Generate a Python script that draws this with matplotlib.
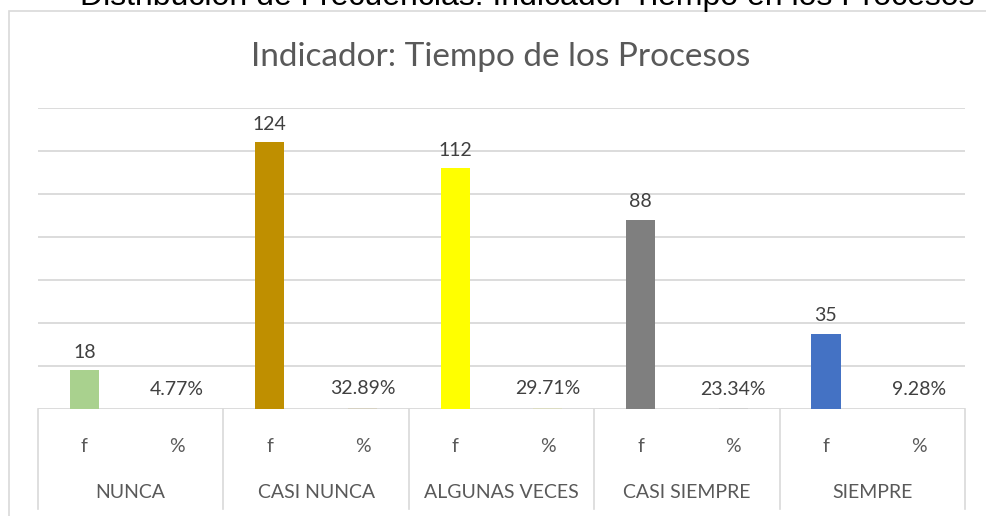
import matplotlib.pyplot as plt
import matplotlib.transforms as mtransforms
from matplotlib.patches import Rectangle
import numpy as np

categories = ["NUNCA", "CASI NUNCA", "ALGUNAS VECES", "CASI SIEMPRE", "SIEMPRE"]
sub_labels = ["f", "%"]
freq = [18, 124, 112, 88, 35]
pct = [4.77, 32.89, 29.71, 23.34, 9.28]
bar_colors = ["#A9D18E", "#BF8F00", "#FFFF00", "#7F7F7F", "#4472C4"]

plt.rcParams['font.family'] = ['Lato', 'DejaVu Sans']

fig = plt.figure(figsize=(9.86, 5.16), dpi=100)
W, H = 986, 516

# chart area border (runs past the right/bottom edge)
fig.patches.append(Rectangle((8.5 / W, -0.1), 1.2, (H - 10.5) / H + 0.1,
                             transform=fig.transFigure, fill=False,
                             edgecolor='#D9D9D9', lw=1.2))

# outer caption, clipped by the top edge
fig.text(527 / W, (H - 5) / H, "Distribución de Frecuencias: Indicador Tiempo en los Procesos",
         ha='center', va='baseline', fontsize=23, color='black',
         family=['Liberation Sans', 'DejaVu Sans'])

fig.text(501 / W, (H - 57) / H, "Indicador: Tiempo de los Procesos",
         ha='center', va='center', fontsize=24, color='#595959')

ax = fig.add_axes([38 / W, (H - 409) / H, 927 / W, 301 / H])
ax.set_xlim(-0.5, 9.5)
ax.set_ylim(0, 140)

x_f = np.arange(len(categories)) * 2
x_p = x_f + 1
bw = 0.315
ax.bar(x_f, freq, width=bw, color=bar_colors, lw=0, zorder=3)
# percentages plotted on the same scale -> practically zero height
ax.bar(x_p, np.array(pct) / 100, width=bw, color=bar_colors, lw=0, zorder=1)

for x, v in zip(x_f, freq):
    ax.annotate(str(v), (x, v), xytext=(0, 13), textcoords='offset points',
                ha='center', va='center', fontsize=14, color='#404040')
for x, v in zip(x_p, pct):
    ax.annotate(f"{v:.2f}%", (x, v / 100), xytext=(0, 14), textcoords='offset points',
                ha='center', va='center', fontsize=14, color='#404040')

ax.set_yticks(np.arange(0, 141, 20))
ax.yaxis.grid(True, color='#D9D9D9', lw=1.3, zorder=2)
ax.set_axisbelow(False)
ax.tick_params(left=False, labelleft=False, bottom=False, labelbottom=False)
for s in ax.spines.values():
    s.set_visible(False)

# two-level category axis
trans = mtransforms.blended_transform_factory(ax.transData, ax.transAxes)
ph = 301
for i, cat in enumerate(categories):
    for j, sl in enumerate(sub_labels):
        ax.text(2 * i + j, -37 / ph, sl, transform=trans, ha='center', va='center',
                fontsize=14, color='#595959')
    ax.text(2 * i + 0.5, -83 / ph, cat, transform=trans, ha='center', va='center',
            fontsize=14, color='#595959')
for xs in np.arange(-0.5, 10, 2):
    ax.plot([xs, xs], [0, -100 / ph], transform=trans, color='#D9D9D9', lw=1.2,
            clip_on=False)

fig.savefig("out.png", dpi=100)
